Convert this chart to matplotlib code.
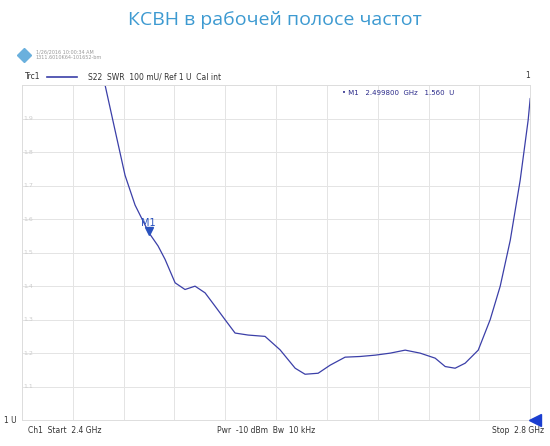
import matplotlib
matplotlib.use("Agg")
import matplotlib.pyplot as plt
import numpy as np

freq_ghz = [2.4654, 2.4732, 2.4811, 2.4890, 2.4998, 2.5071, 2.5126, 2.5205, 2.5283, 2.5362,
            2.5441, 2.5520, 2.5598, 2.5677, 2.5780, 2.5913, 2.6031, 2.6150, 2.6228, 2.6331,
            2.6425, 2.6543, 2.6661, 2.6780, 2.6898, 2.7016, 2.7134, 2.7252, 2.7331, 2.7409,
            2.7488, 2.7591, 2.7685, 2.7764, 2.7843, 2.7921, 2.7984, 2.8000]
swr = [2.00, 1.866, 1.731, 1.642, 1.560, 1.52, 1.48, 1.41, 1.39, 1.40,
       1.38, 1.34, 1.30, 1.26, 1.254, 1.25, 1.21, 1.155, 1.137, 1.14,
       1.164, 1.188, 1.19, 1.194, 1.20, 1.209, 1.20, 1.185, 1.16, 1.155,
       1.17, 1.209, 1.30, 1.40, 1.537, 1.716, 1.896, 1.96]
y_ticks = [1.1, 1.2, 1.3, 1.4, 1.5, 1.6, 1.7, 1.8, 1.9]
marker_f, marker_v = 2.4998, 1.560

fig = plt.figure(figsize=(5.5, 4.46), dpi=100)
fig.text(0.5, 0.955, "КСВН в рабочей полосе частот", ha="center", va="center",
         fontsize=14, color="#3d9ad1", family="Open Sans")
ax = fig.add_axes([0.04, 0.058, 0.924, 0.751])
ax.plot(freq_ghz, swr, color="#3b3fa8", lw=0.9)
ax.set_xlim(2.4, 2.8)
ax.set_ylim(1.0, 2.0)
ax.set_xticks(np.linspace(2.4, 2.8, 11))
ax.set_yticks(np.linspace(1.0, 2.0, 11))
ax.grid(True, color="#e4e4e4", lw=0.7)
ax.tick_params(length=0, labelbottom=False, labelleft=False)
for s in ax.spines.values():
    s.set_color("#dddddd"); s.set_linewidth(0.7)
for v in y_ticks:
    ax.text(2.401, v, str(v), fontsize=4.5, color="#cccccc", va="center", ha="left")
ax.text(-0.01, 0.0, "1 U", transform=ax.transAxes, fontsize=5.5, ha="right", va="center", color="#333333")
ax.plot([marker_f], [marker_v + 0.005], marker="v", color="#2a52be", ms=6, clip_on=False)
ax.text(marker_f - 0.006, marker_v + 0.02, "M1", fontsize=7, color="#2a52be")
ax.plot([2.804], [1.0], marker="<", color="#1a3ed0", ms=8, clip_on=False, zorder=10)
ax.text(0.63, 0.985, "• M1   2.499800  GHz   1.560  U", transform=ax.transAxes,
        fontsize=5, color="#2a2a8a", va="top")
fig.text(0.045, 0.828, "Trc1", fontsize=5.5, color="#333333", va="center")
fig.add_artist(plt.Line2D([0.085, 0.14], [0.828, 0.828], color="#3b3fa8", lw=1.2))
fig.text(0.16, 0.828, "S22  SWR  100 mU/ Ref 1 U  Cal int", fontsize=5.5, color="#333333", va="center")
fig.text(0.955, 0.83, "1", fontsize=5.5, color="#333333", va="center")
fig.text(0.065, 0.877, "1/26/2016 10:00:34 AM\n1311.6010K64-101652-bm", fontsize=3.5,
         color="#999999", va="center", linespacing=1.2)
fig.add_artist(plt.Line2D([0.043], [0.877], marker="D", color="#6ab0dd", ms=7))
fig.text(0.05, 0.035, "Ch1  Start  2.4 GHz", fontsize=5.5, color="#333333", va="center")
fig.text(0.395, 0.035, "Pwr  -10 dBm  Bw  10 kHz", fontsize=5.5, color="#333333", va="center")
fig.text(0.895, 0.035, "Stop  2.8 GHz", fontsize=5.5, color="#333333", va="center")
fig.savefig("out.png", dpi=100, facecolor="white")
